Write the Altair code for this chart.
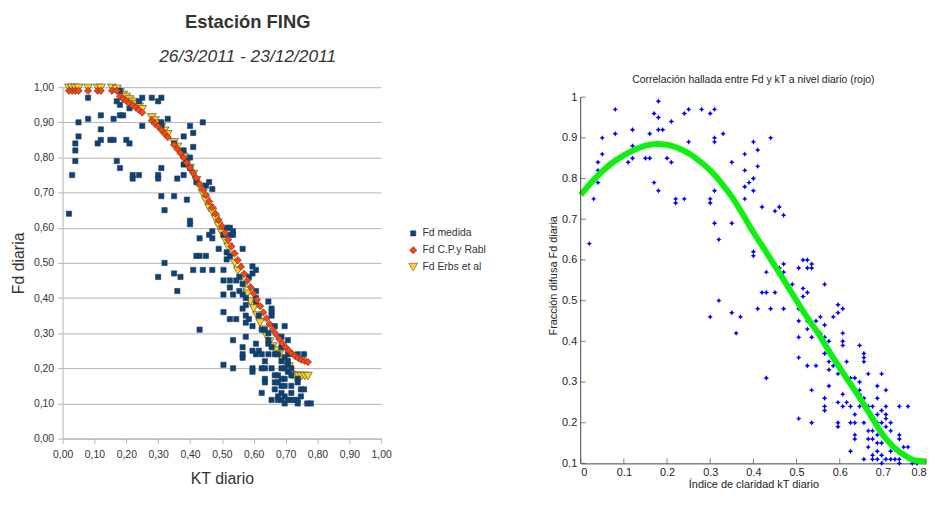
import altair as alt
import pandas as pd

# ---------------- measured data (KT diario, Fd diaria) ----------------
kt_med = [0.02, 0.03, 0.04, 0.04, 0.04, 0.05, 0.05, 0.08, 0.08, 0.11, 0.12, 0.12, 0.12,
          0.15, 0.16, 0.16, 0.17, 0.17, 0.18, 0.18, 0.18, 0.19, 0.18, 0.20, 0.21, 0.21,
          0.22, 0.22, 0.24, 0.24, 0.25, 0.25, 0.28, 0.30, 0.30, 0.30, 0.31, 0.31, 0.31,
          0.31, 0.31, 0.32, 0.33, 0.35, 0.35, 0.36, 0.38, 0.38, 0.38, 0.38, 0.39, 0.39,
          0.40, 0.40, 0.40, 0.41, 0.41, 0.40, 0.40, 0.42, 0.43, 0.42, 0.43, 0.45, 0.44,
          0.45, 0.46, 0.47, 0.47, 0.47, 0.49,
          0.32, 0.30, 0.35, 0.36, 0.37, 0.41, 0.43, 0.44, 0.46, 0.47,
          0.505, 0.505, 0.505, 0.505, 0.505, 0.505,
          0.515, 0.515, 0.515,
          0.525, 0.525, 0.525, 0.525, 0.525, 0.525,
          0.535, 0.535, 0.535, 0.535, 0.535,
          0.545, 0.545,
          0.555, 0.555,
          0.565, 0.565, 0.565, 0.565, 0.565, 0.565, 0.565,
          0.575, 0.575, 0.575, 0.575, 0.575,
          0.585, 0.585,
          0.596, 0.596, 0.596, 0.596, 0.596, 0.596,
          0.607, 0.607, 0.607, 0.607, 0.607, 0.607,
          0.616, 0.616,
          0.625, 0.625, 0.625, 0.625,
          0.635, 0.635, 0.635, 0.635, 0.635,
          0.646, 0.646, 0.646, 0.646, 0.646,
          0.656, 0.656, 0.656, 0.656, 0.656, 0.656,
          0.666, 0.666, 0.666, 0.666, 0.666,
          0.676, 0.676, 0.676, 0.676, 0.676,
          0.687, 0.687, 0.687, 0.687, 0.687, 0.687, 0.687, 0.687,
          0.697, 0.697, 0.697, 0.697, 0.697, 0.697, 0.697,
          0.707, 0.707, 0.707, 0.707, 0.707, 0.707,
          0.718, 0.718, 0.718, 0.718, 0.718,
          0.728,
          0.738, 0.738, 0.738, 0.738, 0.738,
          0.748, 0.748,
          0.758, 0.758,
          0.768, 0.779]
fd_med = [0.64, 0.75, 0.84, 0.82, 0.79, 0.86, 0.90, 0.97, 0.91, 0.84, 0.92, 0.85, 0.88,
          0.85, 0.85, 0.91, 0.96, 0.79, 0.99, 0.95, 0.92, 0.92, 0.77, 0.85, 0.94, 0.84,
          0.75, 0.74, 0.75, 0.96, 0.97, 0.89, 0.97, 0.96, 0.75, 0.74, 0.97, 0.90, 0.89,
          0.77, 0.69, 0.65, 0.91, 0.84, 0.69, 0.74, 0.86, 0.82, 0.78, 0.75, 0.79, 0.68,
          0.89, 0.80, 0.77, 0.87, 0.83, 0.62, 0.61, 0.73, 0.57, 0.52, 0.52, 0.52, 0.90,
          0.72, 0.73, 0.71, 0.59, 0.57, 0.54,
          0.50, 0.46, 0.47, 0.42, 0.46, 0.48, 0.31, 0.48, 0.58, 0.48,
          0.58, 0.48, 0.45, 0.41, 0.36, 0.21,
          0.60, 0.53, 0.51,
          0.60, 0.58, 0.52, 0.45, 0.43, 0.34,
          0.59, 0.58, 0.41, 0.28, 0.20,
          0.45, 0.34,
          0.46, 0.42,
          0.54, 0.44, 0.41, 0.37, 0.26, 0.24, 0.23,
          0.40, 0.38, 0.35, 0.33, 0.29,
          0.46, 0.34,
          0.49, 0.47, 0.32, 0.25, 0.20, 0.19,
          0.48, 0.42, 0.40, 0.39, 0.27, 0.24,
          0.35, 0.25,
          0.31, 0.24, 0.20, 0.13,
          0.31, 0.22, 0.20, 0.17, 0.16,
          0.39, 0.30, 0.28, 0.27, 0.24,
          0.37, 0.36, 0.35, 0.26, 0.20, 0.11,
          0.32, 0.24, 0.18, 0.16, 0.14,
          0.24, 0.18, 0.16, 0.12, 0.11,
          0.29, 0.26, 0.22, 0.20, 0.17, 0.15, 0.13, 0.11,
          0.32, 0.23, 0.20, 0.17, 0.15, 0.12, 0.10,
          0.28, 0.24, 0.22, 0.21, 0.19, 0.11,
          0.20, 0.18, 0.15, 0.13, 0.11,
          0.11,
          0.24, 0.17, 0.16, 0.11, 0.10,
          0.14, 0.12,
          0.24, 0.14,
          0.10, 0.10]

# ---------------- model values (left panel) ----------------
kt_model = [0.02, 0.03, 0.04, 0.05, 0.08, 0.11, 0.12, 0.155, 0.17, 0.18, 0.19, 0.20, 0.21,
            0.22, 0.23, 0.24, 0.25, 0.28, 0.29, 0.30, 0.31, 0.32, 0.33, 0.35, 0.36, 0.37,
            0.38, 0.39, 0.40, 0.41, 0.42, 0.43, 0.44, 0.45, 0.46, 0.47, 0.48, 0.49, 0.50,
            0.51, 0.52, 0.53, 0.54, 0.55, 0.56, 0.57, 0.58, 0.59, 0.60, 0.61, 0.62, 0.63,
            0.64, 0.65, 0.66, 0.67, 0.68, 0.69, 0.70, 0.71, 0.72, 0.73, 0.74, 0.75, 0.76,
            0.77]
fd_cpr = [0.99, 0.99, 0.99, 0.99, 0.99, 0.99, 0.99, 0.99, 0.99, 0.974, 0.967, 0.961, 0.955,
          0.948, 0.942, 0.935, 0.928, 0.905, 0.896, 0.888, 0.878, 0.868, 0.858, 0.836, 0.824, 0.812,
          0.799, 0.785, 0.771, 0.756, 0.741, 0.725, 0.709, 0.693, 0.675, 0.658, 0.640, 0.622, 0.604,
          0.585, 0.566, 0.547, 0.527, 0.508, 0.489, 0.469, 0.450, 0.431, 0.413, 0.395, 0.377, 0.359,
          0.342, 0.326, 0.311, 0.297, 0.283, 0.271, 0.260, 0.250, 0.242, 0.235, 0.229, 0.224, 0.221,
          0.218]
fd_erbs = [0.998, 0.998, 0.998, 0.998, 0.998, 0.998, 0.998, 0.998, 0.995, 0.985, 0.978, 0.972, 0.965,
           0.958, 0.951, 0.944, 0.937, 0.914, 0.905, 0.896, 0.886, 0.876, 0.866, 0.843, 0.830, 0.816,
           0.801, 0.786, 0.770, 0.753, 0.735, 0.716, 0.697, 0.677, 0.656, 0.645, 0.625, 0.605, 0.585,
           0.565, 0.545, 0.523, 0.500, 0.478, 0.456, 0.434, 0.412, 0.390, 0.370, 0.350, 0.330, 0.310,
           0.292, 0.276, 0.262, 0.250, 0.239, 0.228, 0.218, 0.205, 0.180, 0.178, 0.178, 0.178, 0.178,
           0.178]

# ---------------- fitted correlation (right panel, green) ----------------
kt_fit = [0.0, 0.025, 0.05, 0.075, 0.1, 0.125, 0.15, 0.175, 0.2, 0.225, 0.25, 0.275, 0.3,
          0.325, 0.35, 0.375, 0.4, 0.425, 0.45, 0.475, 0.5, 0.525, 0.55, 0.575, 0.6, 0.625,
          0.65, 0.675, 0.7, 0.725, 0.75, 0.775, 0.8]
fd_fit = [0.760, 0.791, 0.818, 0.840, 0.857, 0.871, 0.881, 0.885, 0.883, 0.875, 0.862, 0.843, 0.820,
          0.790, 0.755, 0.713, 0.668, 0.627, 0.585, 0.543, 0.500, 0.458, 0.420, 0.376, 0.335, 0.295,
          0.255, 0.212, 0.170, 0.140, 0.120, 0.107, 0.105]

series_names = ["Fd medida", "Fd C.P.y Rabl", "Fd Erbs et al"]
series_colors = ["#004586", "#ff420e", "#ffd320"]
series_shapes = ["square", "diamond", "triangle-down"]
series_sizes = [28, 80, 66]

x_ticks_right = [0, 0.1, 0.2, 0.3, 0.4, 0.5, 0.6, 0.7, 0.8]
y_ticks_right = [0.1, 0.2, 0.3, 0.4, 0.5, 0.6, 0.7, 0.8, 0.9, 1.0]

SANS = "Liberation Sans, Arial, sans-serif"

# ---------------- left panel ----------------
df_erbs = pd.DataFrame({"kt": kt_model, "fd": fd_erbs, "serie": series_names[2], "o": 0})
df_med = pd.DataFrame({"kt": kt_med, "fd": fd_med, "serie": series_names[0], "o": 1})
df_cpr = pd.DataFrame({"kt": kt_model, "fd": fd_cpr, "serie": series_names[1], "o": 2})
left_df = pd.concat([df_erbs, df_med, df_cpr], ignore_index=True)

comma_fmt = "replace(format(datum.value, '.2f'), '.', ',')"
vals01 = [round(i * 0.1, 1) for i in range(11)]

left = alt.Chart(left_df).mark_point(
    filled=True, stroke="#3a3a3a", strokeWidth=0.6, opacity=1
).encode(
    x=alt.X("kt:Q", scale=alt.Scale(domain=[0, 1], nice=False),
            axis=alt.Axis(values=vals01, labelExpr=comma_fmt, title="KT diario", grid=False,
                          tickSize=5, labelPadding=6, titlePadding=11, labelFlush=False,
                          titleFontSize=16, titleFontWeight="normal", titleFont=SANS,
                          labelFont=SANS, labelFontSize=10.5)),
    y=alt.Y("fd:Q", scale=alt.Scale(domain=[0, 1], nice=False),
            axis=alt.Axis(values=vals01, labelExpr=comma_fmt, title="Fd diaria", grid=True,
                          tickSize=5, labelPadding=4, titlePadding=7, labelFlush=False,
                          titleFontSize=16, titleFontWeight="normal", titleFont=SANS,
                          labelFont=SANS, labelFontSize=10.5)),
    color=alt.Color("serie:N", scale=alt.Scale(domain=series_names, range=series_colors),
                    legend=alt.Legend(title=None, orient="none", legendX=348, legendY=142,
                                      labelFont=SANS, labelFontSize=10.5, labelColor="#333333",
                                      symbolSize=40, symbolStrokeWidth=0.5, rowPadding=6,
                                      labelOffset=4, symbolStrokeColor="#3a3a3a")),
    shape=alt.Shape("serie:N", scale=alt.Scale(domain=series_names, range=series_shapes)),
    size=alt.Size("serie:N", scale=alt.Scale(domain=series_names, range=series_sizes), legend=None),
    order=alt.Order("o:Q"),
).properties(
    width=321, height=354,
    title=alt.TitleParams(
        text="Estación FING", subtitle="26/3/2011 - 23/12/2011",
        font=SANS, fontSize=18.5, fontWeight="bold", color="#333333",
        subtitleFont=SANS, subtitleFontSize=17.5, subtitleFontStyle="italic",
        subtitleColor="#333333", subtitlePadding=17, anchor="middle", dx=26, offset=17,
    ),
)

# ---------------- right panel ----------------
right_pts_df = pd.DataFrame({"kt": kt_med, "fd": fd_med})
fit_df = pd.DataFrame({"kt": kt_fit, "fd": fd_fit})

star = "M0,-1L0.35,-0.35L1,0L0.35,0.35L0,1L-0.35,0.35L-1,0L-0.35,-0.35Z"

xr = alt.X("kt:Q", scale=alt.Scale(domain=[0, 0.8], nice=False),
           axis=alt.Axis(values=x_ticks_right, format="~g", title="Índice de claridad kT diario",
                         grid=False, ticks=False, labelPadding=3, titlePadding=1,
                         labelFlush=True, labelFlushOffset=0,
                         titleFontSize=11, titleFontWeight="normal", titleFont=SANS,
                         labelFont=SANS, labelFontSize=11, labelColor="#222222",
                         domainColor="#444444", titleColor="#222222"))
yr = alt.Y("fd:Q", scale=alt.Scale(domain=[0.1, 1.0244], nice=False),
           axis=alt.Axis(values=y_ticks_right, format="~g", title="Fracción difusa Fd diaria",
                         grid=False, ticks=False, domain=False, labelPadding=4, titlePadding=3,
                         labelFlush=False,
                         titleFontSize=11, titleFontWeight="normal", titleFont=SANS,
                         labelFont=SANS, labelFontSize=11, labelColor="#222222",
                         titleColor="#222222"))

pts = alt.Chart(right_pts_df).mark_point(
    shape=star, filled=True, color="#0000ff", size=30, opacity=1
).encode(x=xr, y=yr)

fit = alt.Chart(fit_df).mark_line(color="#11ee11", strokeWidth=6, interpolate="monotone").encode(
    x="kt:Q", y="fd:Q")

xt_df = pd.DataFrame({"kt": x_ticks_right, "fd": [y_ticks_right[0]] * len(x_ticks_right)})
yt_df = pd.DataFrame({"kt": [x_ticks_right[0]] * len(y_ticks_right), "fd": y_ticks_right})
yaxis_df = pd.DataFrame({"kt": [x_ticks_right[0]], "fd": [y_ticks_right[0]],
                         "fd2": [y_ticks_right[-1]]})
xt = alt.Chart(xt_df).mark_tick(orient="vertical", size=5, thickness=1, color="#444444",
                                yOffset=-2.5).encode(x="kt:Q", y="fd:Q")
yt = alt.Chart(yt_df).mark_tick(orient="horizontal", size=5, thickness=1, color="#444444",
                                xOffset=2.5).encode(x="kt:Q", y="fd:Q")
yline = alt.Chart(yaxis_df).mark_rule(color="#444444", strokeWidth=1).encode(
    x="kt:Q", y="fd:Q", y2="fd2:Q")

right = alt.layer(pts, fit, xt, yt, yline).properties(
    width=348, height=379,
    title=alt.TitleParams(text="Correlación hallada entre Fd y kT a nivel diario (rojo)",
                          font=SANS, fontSize=10.5, fontWeight="normal", color="#222222",
                          anchor="middle", offset=2),
)

chart = alt.hconcat(left, right, spacing=156).properties(
    padding={"left": 2, "top": 3, "right": 0, "bottom": 0}
).configure_view(
    stroke=None
).configure_axis(
    domainColor="#b3b3b3", tickColor="#b3b3b3", gridColor="#b3b3b3",
    labelColor="#333333", titleColor="#333333"
)

chart.save("out.html", embed_options={"renderer": "svg", "actions": False})
